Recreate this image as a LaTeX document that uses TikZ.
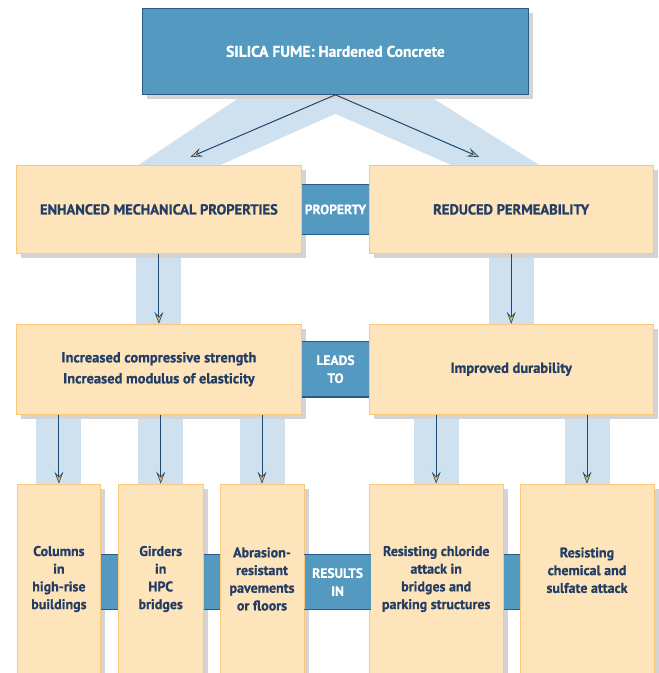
\documentclass[tikz,border=0pt]{standalone}
\usepackage{fontspec}
\setmainfont{PT Sans}[BoldFeatures={FakeBold=0.8}]
\usetikzlibrary{positioning, arrows.meta, shadows, backgrounds}
\definecolor{fumeblue}{RGB}{84,153,192}
\definecolor{fumeedge}{RGB}{40,92,134}
\definecolor{boxfill}{RGB}{254,228,187}
\definecolor{boxedge}{RGB}{249,200,125}
\definecolor{bandblue}{RGB}{207,225,238}
\definecolor{shadegray}{RGB}{212,212,212}
\definecolor{inkblue}{RGB}{35,62,100}
\definecolor{arrowblue}{RGB}{30,72,112}
\definecolor{tipgold}{RGB}{232,180,76}
\tikzset{
  box/.style={draw=boxedge, line width=0.8pt, fill=boxfill, inner sep=0pt, align=center,
    text=inkblue, font=\bfseries\fontsize{14.5}{21}\selectfont,
    drop shadow={shadow xshift=5pt, shadow yshift=-5pt, fill=shadegray, opacity=1}},
  headbox/.style={box, draw=fumeedge, fill=fumeblue, text=white, font=\bfseries\fontsize{15.5}{18}\selectfont},
  capsfont/.style={font=\bfseries\fontsize{14.5}{17}\selectfont},
  colfont/.style={font=\bfseries\fontsize{14}{17.7}\selectfont, minimum height=190pt},
  link/.style={fill=fumeblue, inner sep=0pt, align=center, text=white, font=\bfseries\fontsize{13.5}{18}\selectfont},
  linkedge/.style={draw=fumeedge, line width=1.2pt},
  band/.style={draw=bandblue, line width=45pt},
  flow/.style={draw=arrowblue, line width=1pt, -{Stealth[length=12pt, width=9pt, inset=5pt, line width=0.6pt, fill=tipgold]}}
}
\begin{document}
\begin{tikzpicture}
\useasboundingbox (0,0) rectangle (659pt,-673pt);
\node[headbox, minimum width=386pt, minimum height=86pt, anchor=north west](fume) at (142pt,-8pt){SILICA FUME: Hardened Concrete};

\begin{scope}[node distance=67pt]
\node[box, capsfont, minimum width=285pt, minimum height=88pt, anchor=north west](mech) at (16pt,-165pt){ENHANCED MECHANICAL PROPERTIES};
\node[box, capsfont, minimum width=284pt, minimum height=88pt, right=of mech](perm){REDUCED PERMEABILITY};
\end{scope}

\begin{scope}[node distance=70pt]
\node[box, minimum width=285pt, minimum height=90pt, below=of mech](strength){Increased compressive strength\\Increased modulus of elasticity};
\node[box, minimum width=284pt, minimum height=90pt, below=of perm](durab){Improved durability};
\end{scope}

\node[box, colfont, minimum width=83pt, below=69pt of strength.south west, anchor=north west, xshift=1pt](cola){Columns\\in\\high-rise\\buildings};
\node[box, colfont, minimum width=85pt, right=17pt of cola](colb){Girders\\in\\HPC\\bridges};
\node[box, colfont, minimum width=84pt, right=16pt of colb](colc){Abrasion-\\resistant\\pavements\\or floors};
\node[box, colfont, minimum width=134pt, below=69pt of durab.south west, anchor=north west](cold){Resisting chloride\\attack in\\bridges and\\parking structures};
\node[box, colfont, minimum width=134pt, right=16pt of cold](cole){Resisting\\chemical and\\sulfate attack\\\phantom{x}};

% links between the boxes
\node[link, minimum width=67pt, minimum height=50pt, right=0pt of mech](property){PROPERTY};
\node[link, minimum width=67pt, minimum height=55pt, right=0pt of strength](leads){LEADS\\TO};
\node[link, minimum width=17pt, minimum height=54pt, right=0pt of cola, yshift=-3pt](barab){};
\node[link, minimum width=16pt, minimum height=54pt, right=0pt of colb, yshift=-3pt](barbc){};
\node[link, minimum width=66pt, minimum height=54pt, right=0pt of colc, yshift=-3pt](results){RESULTS\\IN};
\node[link, minimum width=16pt, minimum height=54pt, right=0pt of cold, yshift=-3pt](barde){};
\foreach \n in {property, leads, barab, barbc, results, barde}
  \draw[linkedge] (\n.north west) -- (\n.north east) (\n.south west) -- (\n.south east);

% arrows
\draw[flow] (fume.south) -- ([xshift=31.5pt, yshift=8pt]mech.north);
\draw[flow] (fume.south) -- ([xshift=-32pt, yshift=8pt]perm.north);
\draw[flow] (mech) -- (strength);
\draw[flow] (perm) -- (durab);
\foreach \c in {cola, colb, colc}
  \draw[flow] (\c.north |- strength.south) -- (\c.north);
\foreach \c in {cold, cole}
  \draw[flow] (\c.north |- durab.south) -- (\c.north);

% light bands behind the arrows
\begin{scope}[on background layer]
\fill[bandblue] ([xshift=-92pt]fume.south) -- ([xshift=92pt]fume.south) -- ([xshift=28pt]perm.north) -- ([xshift=-60pt]perm.north) -- ([yshift=-19pt]fume.south) -- ([xshift=61.5pt]mech.north) -- ([xshift=-20.5pt]mech.north) -- cycle;
\draw[band] (mech.south) -- (strength.north);
\draw[band] (perm.south) -- (durab.north);
\foreach \c in {cola, colb, colc}
  \draw[band] (\c.north |- strength.south) -- (\c.north);
\foreach \c in {cold, cole}
  \draw[band] (\c.north |- durab.south) -- (\c.north);
\end{scope}
\end{tikzpicture}
\end{document}
